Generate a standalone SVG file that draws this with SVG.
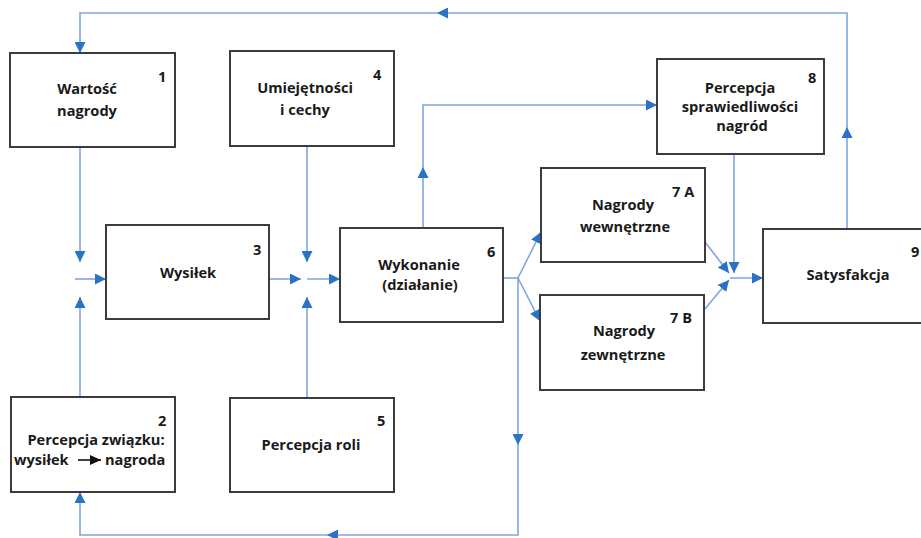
<svg xmlns="http://www.w3.org/2000/svg" width="921" height="538" viewBox="0 0 921 538">
<defs>
<marker id="ah" markerUnits="userSpaceOnUse" markerWidth="11" markerHeight="11" refX="11" refY="5.5" orient="auto" viewBox="0 0 11 11">
<path d="M0,0 L11,5.5 L0,11 z" fill="#2A72C6"/>
</marker>
<marker id="bk" markerUnits="userSpaceOnUse" markerWidth="11" markerHeight="10" refX="11" refY="5" orient="auto" viewBox="0 0 11 10">
<path d="M0,0 L11,5 L0,10 z" fill="#111"/>
</marker>
</defs>
<style>
.box{fill:#fff;stroke:#3c3c3c;stroke-width:2}
.t{font-family:"Open Sans",Lato,"Liberation Sans",sans-serif;font-weight:bold;font-size:14.6px;fill:#1a1a1a;text-anchor:middle}
.n{font-family:"Open Sans",Lato,"Liberation Sans",sans-serif;font-weight:bold;font-size:14.6px;fill:#1a1a1a;text-anchor:start}
.c{fill:none;stroke:#7EA6DE;stroke-width:1.6;marker-end:url(#ah)}
.p{fill:none;stroke:#7EA6DE;stroke-width:1.6}
</style>
<rect width="921" height="538" fill="#fff"/>
<g id="connectors">
<path class="c" d="M80,147 V262"/>
<path class="c" d="M75,279 H106"/>
<path class="c" d="M80,397 V297"/>
<path class="c" d="M269,279 H301"/>
<path class="c" d="M307,279 H340"/>
<path class="c" d="M307,146 V262"/>
<path class="c" d="M307,398 V297"/>
<path class="c" d="M423,228 V167"/>
<path class="c" d="M423,167 V105 H657"/>
<path class="p" d="M503,278 H518"/>
<path class="c" d="M518,278 L541,232"/>
<path class="c" d="M518,278 L540,321"/>
<path class="c" d="M518,278 V445"/>
<path class="c" d="M518,445 V535 H327"/>
<path class="c" d="M327,535 H80 V492"/>
<path class="c" d="M705,242 L729,273"/>
<path class="c" d="M704,310 L729,280"/>
<path class="c" d="M734,154 V273"/>
<path class="c" d="M730,278 H763"/>
<path class="c" d="M847,229 V127"/>
<path class="c" d="M847,127 V13 H437"/>
<path class="c" d="M437,13 H80 V53"/>
</g>
<g id="n1">
<rect class="box" x="10" y="53" width="165" height="94"/>
<text class="t" x="87" y="94">Wartość</text>
<text class="t" x="87" y="116">nagrody</text>
<text class="n" x="158" y="82">1</text>
</g>
<g id="n4">
<rect class="box" x="230" y="51" width="164" height="95"/>
<text class="t" x="305" y="93">Umiejętności</text>
<text class="t" x="305" y="115">i cechy</text>
<text class="n" x="373" y="80">4</text>
</g>
<g id="n3">
<rect class="box" x="106" y="225" width="163" height="94"/>
<text class="t" x="188" y="278">Wysiłek</text>
<text class="n" x="253" y="255">3</text>
</g>
<g id="n6">
<rect class="box" x="340" y="228" width="163" height="94"/>
<text class="t" x="419" y="270">Wykonanie</text>
<text class="t" x="420" y="290">(działanie)</text>
<text class="n" x="487" y="257">6</text>
</g>
<g id="n2">
<rect class="box" x="11" y="397" width="164" height="95"/>
<text class="n" x="158" y="426">2</text>
<text class="t" x="96" y="445">Percepcja związku:</text>
<text class="n" x="14" y="465">wysiłek</text>
<line x1="78" y1="460" x2="101" y2="460" stroke="#111" stroke-width="1.6" marker-end="url(#bk)"/>
<text class="n" x="105" y="465">nagroda</text>
</g>
<g id="n5">
<rect class="box" x="230" y="398" width="164" height="94"/>
<text class="t" x="311" y="450">Percepcja roli</text>
<text class="n" x="377" y="426">5</text>
</g>
<g id="n7a">
<rect class="box" x="541" y="168" width="164" height="94"/>
<text class="t" x="623" y="210">Nagrody</text>
<text class="t" x="625" y="232">wewnętrzne</text>
<text class="n" x="672" y="197">7 A</text>
</g>
<g id="n7b">
<rect class="box" x="540" y="295" width="164" height="95"/>
<text class="t" x="624" y="336">Nagrody</text>
<text class="t" x="623" y="360">zewnętrzne</text>
<text class="n" x="670" y="323">7 B</text>
</g>
<g id="n8">
<rect class="box" x="657" y="59" width="167" height="95"/>
<text class="t" x="740" y="93">Percepcja</text>
<text class="t" x="740" y="112">sprawiedliwości</text>
<text class="t" x="742" y="131">nagród</text>
<text class="n" x="808" y="83">8</text>
</g>
<g id="n9">
<rect class="box" x="763" y="229" width="170" height="94"/>
<text class="t" x="848" y="280">Satysfakcja</text>
<text class="n" x="911" y="257">9</text>
</g>
</svg>
